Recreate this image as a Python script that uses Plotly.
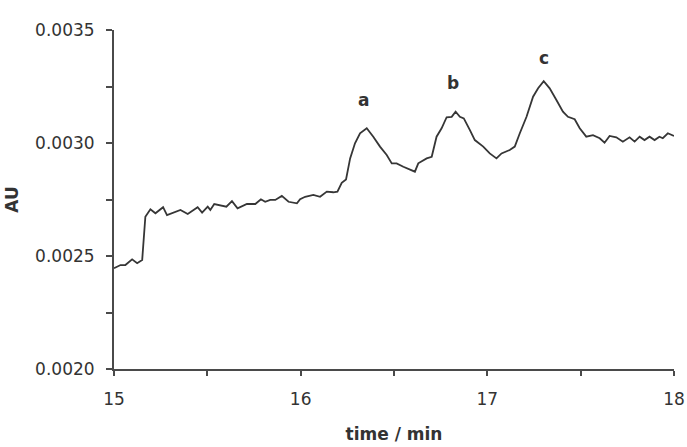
import plotly.graph_objects as go

# time (min) and absorbance (AU)
time_min = [15.000, 15.035, 15.061, 15.097, 15.124, 15.151, 15.168, 15.195, 15.222, 15.263,
            15.284, 15.356, 15.395, 15.448, 15.472, 15.502, 15.516, 15.537, 15.602, 15.632,
            15.662, 15.712, 15.757, 15.787, 15.810, 15.837, 15.864, 15.899, 15.935, 15.980,
            15.997, 16.024, 16.068, 16.104, 16.140, 16.175, 16.197, 16.220, 16.243, 16.265,
            16.291, 16.318, 16.354, 16.389, 16.425, 16.461, 16.488, 16.514, 16.550, 16.612,
            16.630, 16.675, 16.702, 16.728, 16.755, 16.782, 16.809, 16.830, 16.853, 16.874,
            16.906, 16.933, 16.978, 17.013, 17.049, 17.076, 17.120, 17.147, 17.174, 17.210,
            17.245, 17.272, 17.302, 17.334, 17.370, 17.405, 17.432, 17.468, 17.495, 17.530,
            17.566, 17.602, 17.628, 17.655, 17.691, 17.726, 17.762, 17.789, 17.816, 17.842,
            17.869, 17.896, 17.922, 17.940, 17.967, 17.994, 18.000]
au = [0.002446, 0.002460, 0.002460, 0.002485, 0.002468, 0.002482, 0.002674, 0.002707, 0.002689, 0.002716,
      0.002681, 0.002704, 0.002686, 0.002716, 0.002692, 0.002718, 0.002704, 0.002730, 0.002718, 0.002743,
      0.002711, 0.002730, 0.002730, 0.002751, 0.002740, 0.002748, 0.002748, 0.002766, 0.002740, 0.002733,
      0.002751, 0.002762, 0.002770, 0.002762, 0.002785, 0.002782, 0.002785, 0.002824, 0.002839, 0.002932,
      0.002999, 0.003043, 0.003065, 0.003028, 0.002984, 0.002947, 0.002910, 0.002910, 0.002895, 0.002873,
      0.002910, 0.002932, 0.002939, 0.003028, 0.003065, 0.003114, 0.003116, 0.003139, 0.003116, 0.003109,
      0.003058, 0.003013, 0.002984, 0.002954, 0.002932, 0.002954, 0.002969, 0.002984, 0.003043, 0.003116,
      0.003205, 0.003242, 0.003274, 0.003242, 0.003190, 0.003139, 0.003116, 0.003105, 0.003065, 0.003028,
      0.003035, 0.003021, 0.003001, 0.003031, 0.003025, 0.003006, 0.003025, 0.003006, 0.003028, 0.003013,
      0.003028, 0.003013, 0.003028, 0.003021, 0.003043, 0.003035, 0.003031]

peak_labels = ["a", "b", "c"]
peak_x = [16.336, 16.814, 17.302]
peak_y = [0.00319, 0.003265, 0.003375]

x_ticks = [15, 16, 17, 18]
y_ticks = [0.0020, 0.0025, 0.0030, 0.0035]
y_tick_text = ["0.0020", "0.0025", "0.0030", "0.0035"]

FONT = "DejaVu Sans"
AXC = "#4a4a4a"

fig = go.Figure()
fig.add_trace(go.Scatter(x=time_min, y=au, mode="lines",
                         line=dict(color="#363636", width=1.8), showlegend=False))

for t, px, py in zip(peak_labels, peak_x, peak_y):
    fig.add_annotation(x=px, y=py, text=f"<b>{t}</b>", showarrow=False,
                       font=dict(family=FONT, size=17, color="#333333"))

fig.update_layout(
    width=687, height=447,
    margin=dict(l=114, r=13, t=30, b=78),
    paper_bgcolor="white", plot_bgcolor="white",
    font=dict(family=FONT, size=17, color="#333333"),
    xaxis=dict(range=[15, 18], tickvals=x_ticks, ticktext=[str(v) for v in x_ticks],
               automargin=False,
               showline=True, linecolor=AXC, linewidth=2, ticks="outside", ticklen=5,
               tickwidth=2, tickcolor=AXC, showgrid=False, zeroline=False,
               ticklabelstandoff=9,
               minor=dict(dtick=0.5, tick0=15, ticks="outside", ticklen=5, tickwidth=2, tickcolor=AXC,
                          showgrid=False),
               title=dict(text="<b>time / min</b>", font=dict(family=FONT, size=17), standoff=20)),
    yaxis=dict(range=[0.0020, 0.0035], tickvals=y_ticks, ticktext=y_tick_text,
               automargin=False,
               showline=True, linecolor=AXC, linewidth=2, ticks="outside", ticklen=6,
               tickwidth=2, tickcolor=AXC, showgrid=False, zeroline=False,
               ticklabelstandoff=8,
               minor=dict(dtick=0.00025, tick0=0.002, ticks="outside", ticklen=6, tickwidth=2,
                          tickcolor=AXC, showgrid=False),
               title=dict(text="<b>AU</b>", font=dict(family=FONT, size=17), standoff=12)),
)

fig.write_html("out.html")
